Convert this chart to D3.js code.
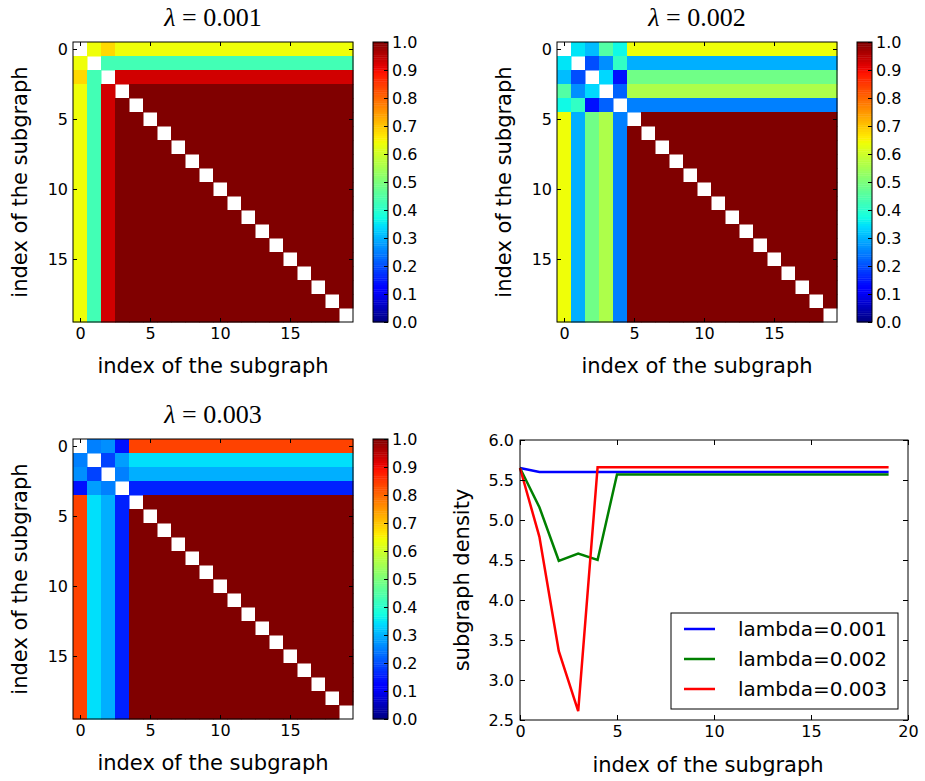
<!DOCTYPE html>
<html>
<head>
<meta charset="utf-8">
<script src="https://cdn.jsdelivr.net/npm/d3@7"></script>
<style>
  body { margin: 0; background: #fff; }
  text { font-family: "DejaVu Sans", sans-serif; fill: #000; }
  .title { font-family: "Liberation Serif", "DejaVu Serif", serif; }
</style>
</head>
<body>
<script>
// lambda values of the three heatmaps
const lambdas = ['0.001', '0.002', '0.003'];
const nSub = 20;

// upper-left block of each similarity matrix (null = diagonal)
const block001 = [
  [null, 0.64, 0.68],
  [0.64, null, 0.43],
  [0.68, 0.43, null]
];
const tail001 = [0.64, 0.43, 0.93];

const block002 = [
  [null, 0.35, 0.31, 0.45, 0.37],
  [0.35, null, 0.20, 0.265, 0.41],
  [0.31, 0.20, null, 0.337, 0.14],
  [0.45, 0.265, 0.337, null, 0.22],
  [0.37, 0.41, 0.14, 0.22, null]
];
const tail002 = [0.64, 0.297, 0.486, 0.56, 0.25];

const block003 = [
  [null, 0.25, 0.265, 0.14],
  [0.25, null, 0.19, 0.28],
  [0.265, 0.19, null, 0.25],
  [0.14, 0.28, 0.25, null]
];
const tail003 = [0.84, 0.345, 0.297, 0.156];
const restValue = 1.0;

const cbTicks = [0, 0.1, 0.2, 0.3, 0.4, 0.5, 0.6, 0.7, 0.8, 0.9, 1.0];

// line chart: subgraph density per index
const density001 = [5.65, 5.6, 5.6, 5.6, 5.6, 5.6, 5.6, 5.6, 5.6, 5.6, 5.6, 5.6, 5.6, 5.6, 5.6, 5.6, 5.6, 5.6, 5.6, 5.6];
const density002 = [5.65, 5.16, 4.49, 4.58, 4.5, 5.57, 5.57, 5.57, 5.57, 5.57, 5.57, 5.57, 5.57, 5.57, 5.57, 5.57, 5.57, 5.57, 5.57, 5.57];
const density003 = [5.65, 4.79, 3.36, 2.61, 5.66, 5.66, 5.66, 5.66, 5.66, 5.66, 5.66, 5.66, 5.66, 5.66, 5.66, 5.66, 5.66, 5.66, 5.66, 5.66];
const lineLabels = ['lambda=0.001', 'lambda=0.002', 'lambda=0.003'];
const lineColors = ['#0000ff', '#008000', '#ff0000'];
const yTicksLine = [2.5, 3.0, 3.5, 4.0, 4.5, 5.0, 5.5, 6.0];
const xTicksLine = [0, 5, 10, 15, 20];

// matplotlib jet
const jr = d3.scaleLinear().domain([0, 0.35, 0.66, 0.89, 1]).range([0, 0, 1, 1, 0.5]).clamp(true);
const jg = d3.scaleLinear().domain([0, 0.125, 0.375, 0.64, 0.91, 1]).range([0, 0, 1, 1, 0, 0]).clamp(true);
const jb = d3.scaleLinear().domain([0, 0.11, 0.34, 0.65, 1]).range([0.5, 1, 1, 0, 0]).clamp(true);
const jet = v => d3.rgb(jr(v) * 255, jg(v) * 255, jb(v) * 255).toString();

function buildMatrix(block, tail) {
  const k = block.length;
  const m = [];
  for (let i = 0; i < nSub; i++) {
    for (let j = 0; j < nSub; j++) {
      let v;
      if (i === j) v = null;
      else if (i < k && j < k) v = block[i][j];
      else if (i < k) v = tail[i];
      else if (j < k) v = tail[j];
      else v = restValue;
      m.push({ i, j, v });
    }
  }
  return m;
}

const svg = d3.select('body').append('svg')
  .attr('width', 925).attr('height', 781);

const size = 280;
const tickLen = 4;
const tickFont = '16px';
const labelFont = '21px';

function heatmap(px, py, matrix, lambda) {
  const g = svg.append('g').attr('transform', `translate(${px},${py})`);
  const x = d3.scaleLinear().domain([-0.5, nSub - 0.5]).range([0, size]);
  const y = d3.scaleLinear().domain([-0.5, nSub - 0.5]).range([0, size]);
  const cell = x(1) - x(0);

  g.selectAll('.cell')
    .data(matrix.filter(d => d.v !== null))
    .enter()
    .append('rect')
    .attr('x', d => x(d.j - 0.5))
    .attr('y', d => y(d.i - 0.5))
    .attr('width', cell + 0.5)
    .attr('height', cell + 0.5)
    .attr('fill', d => jet(d.v));

  g.append('rect')
    .attr('width', size).attr('height', size)
    .attr('fill', 'none').attr('stroke', '#000').attr('stroke-width', 1);

  const ticks = [0, 5, 10, 15];
  g.append('g').attr('transform', `translate(0,${size})`)
    .call(d3.axisBottom(x).tickValues(ticks).tickSizeInner(-tickLen).tickSizeOuter(0).tickPadding(6))
    .call(a => a.select('.domain').remove())
    .call(a => a.selectAll('text').style('font-size', tickFont).style('font-family', 'DejaVu Sans'));
  g.append('g')
    .call(d3.axisTop(x).tickValues(ticks).tickSizeInner(-tickLen).tickSizeOuter(0).tickFormat(''))
    .call(a => a.select('.domain').remove());
  g.append('g')
    .call(d3.axisLeft(y).tickValues(ticks).tickSizeInner(-tickLen).tickSizeOuter(0).tickPadding(5))
    .call(a => a.select('.domain').remove())
    .call(a => a.selectAll('text').style('font-size', tickFont).style('font-family', 'DejaVu Sans'));
  g.append('g').attr('transform', `translate(${size},0)`)
    .call(d3.axisRight(y).tickValues(ticks).tickSizeInner(-tickLen).tickSizeOuter(0).tickFormat(''))
    .call(a => a.select('.domain').remove());

  // title
  const t = g.append('text').attr('class', 'title')
    .attr('x', size / 2).attr('y', -16)
    .attr('text-anchor', 'middle').style('font-size', '26px');
  t.append('tspan').style('font-style', 'italic').text('λ');
  t.append('tspan').text(' = ' + lambda);

  g.append('text').attr('x', size / 2).attr('y', size + 51)
    .attr('text-anchor', 'middle').style('font-size', labelFont)
    .text('index of the subgraph');
  g.append('text')
    .attr('transform', `translate(-46,${size / 2}) rotate(-90)`)
    .attr('text-anchor', 'middle').style('font-size', labelFont)
    .text('index of the subgraph');

  // colorbar
  const cbx = size + 20, cbw = 15;
  const cb = g.append('g').attr('transform', `translate(${cbx},0)`);
  const cy = d3.scaleLinear().domain([0, 1]).range([size, 0]);
  const nSteps = 128;
  cb.selectAll('.cbstep')
    .data(d3.range(nSteps))
    .enter()
    .append('rect')
    .attr('x', 0)
    .attr('y', d => cy((d + 1) / nSteps))
    .attr('width', cbw)
    .attr('height', size / nSteps + 0.4)
    .attr('fill', d => jet((d + 0.5) / nSteps));
  cb.append('rect').attr('width', cbw).attr('height', size)
    .attr('fill', 'none').attr('stroke', '#000').attr('stroke-width', 1);
  cb.append('g').attr('transform', `translate(${cbw},0)`)
    .call(d3.axisRight(cy).tickValues(cbTicks).tickSizeInner(-tickLen).tickSizeOuter(0).tickPadding(4).tickFormat(d3.format('.1f')))
    .call(a => a.select('.domain').remove())
    .call(a => a.selectAll('text').style('font-size', tickFont).style('font-family', 'DejaVu Sans'));
}

heatmap(73, 42, buildMatrix(block001, tail001), lambdas[0]);
heatmap(557, 42, buildMatrix(block002, tail002), lambdas[1]);
heatmap(73, 439, buildMatrix(block003, tail003), lambdas[2]);

// line chart
(function () {
  const left = 520, top = 440, w = 388, h = 280;
  const g = svg.append('g').attr('transform', `translate(${left},${top})`);
  const x = d3.scaleLinear().domain([0, 20]).range([0, w]);
  const y = d3.scaleLinear().domain([2.5, 6.0]).range([h, 0]);
  const series = [density001, density002, density003];

  const line = d3.line().x((d, i) => x(i)).y(d => y(d));
  g.selectAll('.series')
    .data(series)
    .enter()
    .append('path')
    .attr('d', line)
    .attr('fill', 'none')
    .attr('stroke', (d, i) => lineColors[i])
    .attr('stroke-width', 2.5);

  g.append('rect').attr('width', w).attr('height', h)
    .attr('fill', 'none').attr('stroke', '#000').attr('stroke-width', 1);

  g.append('g').attr('transform', `translate(0,${h})`)
    .call(d3.axisBottom(x).tickValues(xTicksLine).tickSizeInner(-5).tickSizeOuter(0).tickPadding(6))
    .call(a => a.select('.domain').remove())
    .call(a => a.selectAll('text').style('font-size', tickFont).style('font-family', 'DejaVu Sans'));
  g.append('g')
    .call(d3.axisTop(x).tickValues(xTicksLine).tickSizeInner(-5).tickSizeOuter(0).tickFormat(''))
    .call(a => a.select('.domain').remove());
  g.append('g')
    .call(d3.axisLeft(y).tickValues(yTicksLine).tickSizeInner(-5).tickSizeOuter(0).tickPadding(6).tickFormat(d3.format('.1f')))
    .call(a => a.select('.domain').remove())
    .call(a => a.selectAll('text').style('font-size', tickFont).style('font-family', 'DejaVu Sans'));
  g.append('g').attr('transform', `translate(${w},0)`)
    .call(d3.axisRight(y).tickValues(yTicksLine).tickSizeInner(-5).tickSizeOuter(0).tickFormat(''))
    .call(a => a.select('.domain').remove());

  g.append('text').attr('x', w / 2 - 6).attr('y', h + 52)
    .attr('text-anchor', 'middle').style('font-size', labelFont)
    .text('index of the subgraph');
  g.append('text')
    .attr('transform', `translate(-51,${h / 2}) rotate(-90)`)
    .attr('text-anchor', 'middle').style('font-size', labelFont)
    .text('subgraph density');

  // legend
  const lg = g.append('g').attr('transform', `translate(${671 - left},${613 - top})`);
  lg.append('rect').attr('width', 227).attr('height', 96)
    .attr('fill', '#fff').attr('stroke', '#000').attr('stroke-width', 1);
  lineLabels.forEach((lab, i) => {
    const yy = 16 + i * 30;
    lg.append('line').attr('x1', 13).attr('x2', 44).attr('y1', yy).attr('y2', yy)
      .attr('stroke', lineColors[i]).attr('stroke-width', 2.5);
    lg.append('text').attr('x', 67).attr('y', yy).attr('dy', '0.35em')
      .style('font-size', '20px').text(lab);
  });
})();
</script>
</body>
</html>
